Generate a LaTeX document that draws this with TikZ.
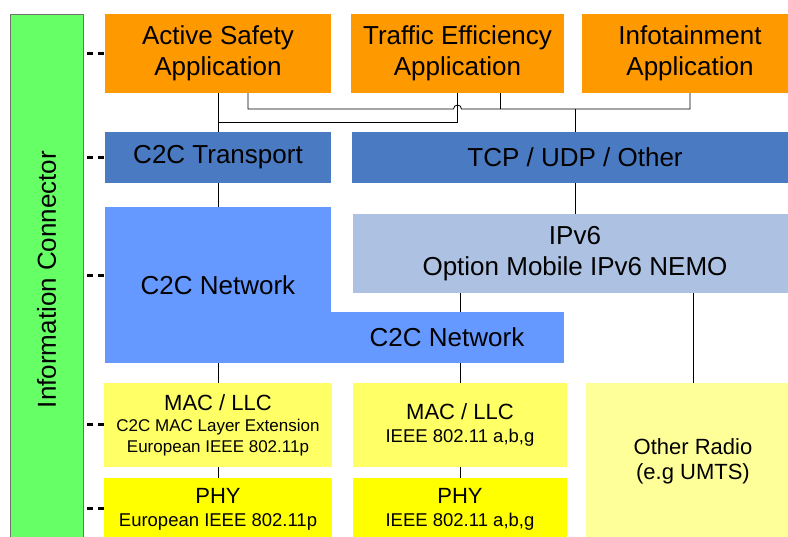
\documentclass[tikz,border=0pt]{standalone}
\usepackage{fontspec}
\setmainfont{Liberation Sans}
\definecolor{icgreen}{HTML}{66FF66}
\definecolor{icedge}{HTML}{707070}
\definecolor{appcol}{HTML}{FF9900}
\definecolor{transcol}{HTML}{4A7AC2}
\definecolor{netcol}{HTML}{6699FF}
\definecolor{ipcol}{HTML}{ADC2E3}
\definecolor{maccol}{HTML}{FFFF66}
\definecolor{phycol}{HTML}{FFFF00}
\definecolor{radiocol}{HTML}{FFFF99}
\def\bigtxt{\fontsize{26}{31}\selectfont}
\def\midtxt{\fontsize{22}{25}\selectfont}
\def\smalltxt{\fontsize{18.5}{23}\selectfont}
\def\tinytxt{\fontsize{17}{21}\selectfont}

\begin{document}
\begin{tikzpicture}[x=1pt,y=-1pt,
    box/.style={rectangle,inner sep=0pt,align=center,text=black},
    wire/.style={line width=0.8pt},
    iclink/.style={line width=3pt,dash pattern=on 6pt off 5pt,dash phase=8pt}]
    \useasboundingbox (0,0) rectangle (788,537);
    \clip (0,0) rectangle (788,537);

    \node[box,fill=icgreen,draw=icedge,line width=0.8pt,rotate=90,
        minimum width=531pt,minimum height=73pt,font=\bigtxt] (ic) at (46.5,279.5) {Information Connector};
    \coordinate (icside) at (84,0);

    \node[box,fill=appcol,minimum width=226pt,minimum height=79pt,font=\bigtxt] (as) at (218,53.5) {Active Safety\\Application};
    \node[box,fill=appcol,minimum width=213pt,minimum height=79pt,font=\bigtxt] (te) at (457.5,53.5) {Traffic Efficiency\\Application};
    \node[box,fill=appcol,minimum width=216pt,minimum height=79pt,font=\bigtxt] (infot) at (690,53.5) {Infotainment\\Application};

    \node[box,fill=transcol,minimum width=226pt,minimum height=51pt,font=\bigtxt] (trans) at (218,157.5) {C2C Transport};
    \node[box,fill=transcol,minimum width=446pt,minimum height=51pt,font=\bigtxt] (tcp) at (575,157.5) {TCP / UDP / Other};

    \node[box,fill=netcol,minimum width=226pt,minimum height=156pt,font=\bigtxt] (netA) at (218,285) {C2C Network};
    \node[box,fill=netcol,minimum width=234pt,minimum height=51pt,font=\bigtxt] (netB) at (447,337.5) {C2C Network};
    \node[box,fill=ipcol,minimum width=444pt,minimum height=79pt,font=\bigtxt] (ipv6) at (575,253.5) {IPv6\\Option Mobile IPv6 NEMO};

    \node[box,fill=maccol,minimum width=228pt,minimum height=84pt,font=\tinytxt] (macA) at (218,425) {{\midtxt MAC / LLC}\\C2C MAC Layer Extension\\European IEEE 802.11p};
    \node[box,fill=maccol,minimum width=214pt,minimum height=84pt,font=\smalltxt] (macB) at (460,425) {{\midtxt MAC / LLC}\\IEEE 802.11 a,b,g};
    \node[box,fill=phycol,minimum width=228pt,minimum height=62pt,font=\smalltxt] (phyA) at (218,509) {{\midtxt PHY}\\European IEEE 802.11p};
    \node[box,fill=phycol,minimum width=214pt,minimum height=62pt,font=\smalltxt] (phyB) at (460,509) {{\midtxt PHY}\\IEEE 802.11 a,b,g};
    \node[box,fill=radiocol,minimum width=214pt,minimum height=157pt,font=\midtxt] (radio) at (693,461.5) {Other Radio\\(e.g UMTS)};

    \coordinate (busA) at (218,122);
    \coordinate (busB) at (248,109);
    \coordinate (hop) at (te.south |- busB);
    \coordinate (teB) at ([xshift=42.5pt]te.south);
    \draw[wire] (as.south) -- (trans.north);
    \draw[wire] (te.south) |- (busA);
    \draw[wire] ([xshift=30pt]as.south) -- (busB) -- ([xshift=-4pt]hop) arc (180:360:4) -- (infot.south |- busB) -- (infot.south);
    \draw[wire] (teB) -- (teB |- busB);
    \draw[wire] (tcp.north) -- (tcp.north |- busB);

    \draw[wire] (trans.south) -- (netA.north);
    \draw[wire] (tcp.south) -- (ipv6.north);
    \draw[wire] (macB.north |- ipv6.south) -- (macB.north |- netB.north);
    \draw[wire] (macB.north |- netB.south) -- (macB.north);
    \draw[wire] (netA.south) -- (macA.north);
    \draw[wire] (radio.north |- ipv6.south) -- (radio.north);
    \draw[wire] (macA.south) -- (phyA.north);
    \draw[wire] (macB.south) -- (phyB.north);

    \draw[iclink] (icside |- as.west) -- ++(21,0);
    \draw[iclink] (icside |- trans.west) -- ++(21,0);
    \draw[iclink] ([yshift=9pt]icside |- netA.west) -- ++(21,0);
    \draw[iclink] (icside |- macA.west) -- ++(21,0);
    \draw[iclink] (icside |- phyA.west) -- ++(21,0);
\end{tikzpicture}
\end{document}
